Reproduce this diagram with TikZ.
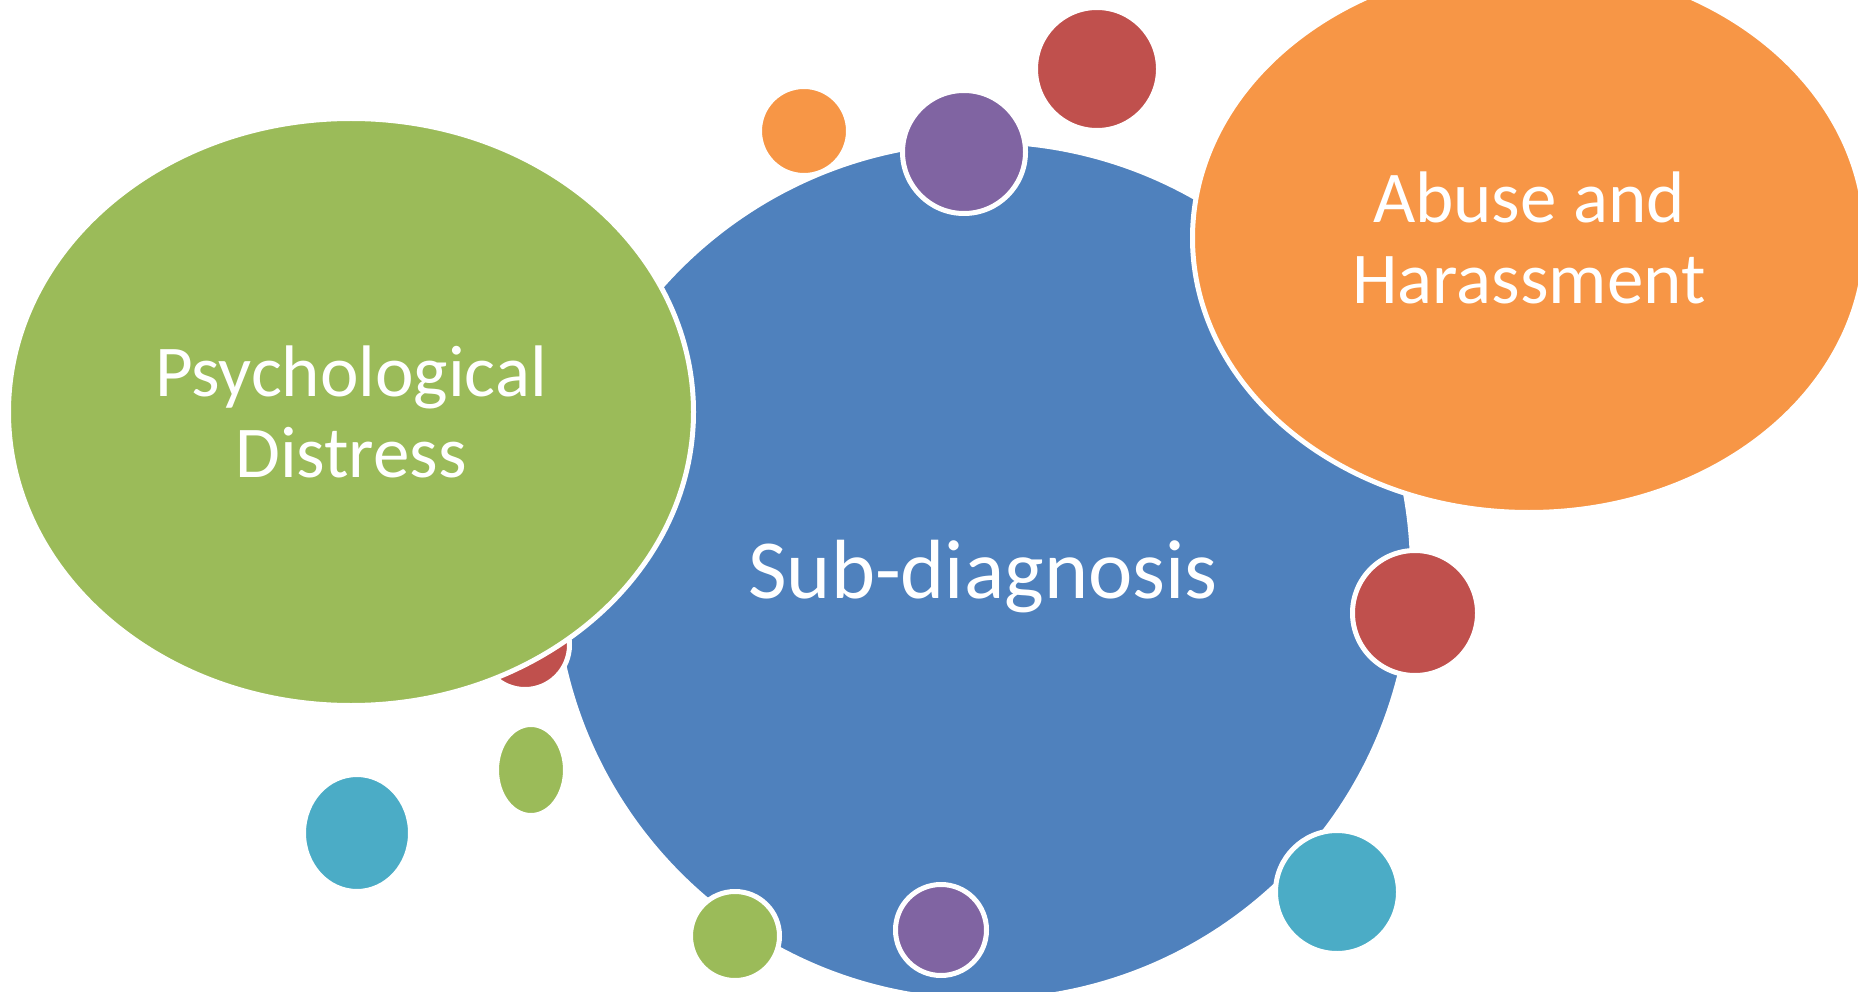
\documentclass[tikz,border=0pt]{standalone}
\usepackage{fontspec}
\setmainfont{Carlito}
\usetikzlibrary{shapes.geometric}
\definecolor{hubblue}{HTML}{4F81BD}
\definecolor{leafgreen}{HTML}{9BBB59}
\definecolor{warmorange}{HTML}{F79646}
\definecolor{brickred}{HTML}{C0504D}
\definecolor{plum}{HTML}{8064A2}
\definecolor{aqua}{HTML}{4BACC6}

\begin{document}
\begin{tikzpicture}[x=1pt, y=-1pt,
  bubble/.style={ellipse, draw=white, line width=5pt, inner sep=0pt,
                 text=white, align=center, font=\fontsize{73}{81}\selectfont},
  spot/.style={circle, draw=white, line width=5pt, inner sep=0pt, minimum size=#1},
  oval/.style 2 args={ellipse, draw=white, line width=5pt, inner sep=0pt,
                      minimum width=#1, minimum height=#2},
]
  \useasboundingbox (0,0) rectangle (1858,992);
  \clip (0,0) rectangle (1858,992);

  % central circle
  \node[spot=859, fill=hubblue] (hub) at (983,571) {};
  \node[anchor=base, text=white, font=\fontsize{84}{90}\selectfont] (hublabel) at (983,598) {Sub-diagnosis};

  % small circles around the hub
  \node[spot=89, fill=brickred] (redlow) at (525,645) {};
  \node[spot=89, fill=warmorange] (orangetop) at (804,131) {};
  \node[spot=123, fill=plum] (plumtop) at (964,152) {};
  \node[spot=123, fill=brickred] (redtop) at (1097,69) {};
  \node[spot=125, fill=brickred] (redright) at (1415,613) {};
  \node[spot=123, fill=aqua] (aquaright) at (1337,892) {};
  \node[spot=91, fill=plum] (plumlow) at (941,930) {};
  \node[spot=89, fill=leafgreen] (greenlow) at (735,936) {};
  \node[oval={69}{91}, fill=leafgreen] (greenleft) at (531,770) {};
  \node[oval={107}{117}, fill=aqua] (aqualeft) at (357,833) {};

  % the two outer themes
  \node[bubble, fill=leafgreen, minimum width=685, minimum height=587] (distress) at (351,412) {Psychological\\Distress};
  \node[bubble, fill=warmorange, minimum width=673, minimum height=549] (abuse) at (1529,238) {Abuse and\\Harassment};
\end{tikzpicture}
\end{document}
